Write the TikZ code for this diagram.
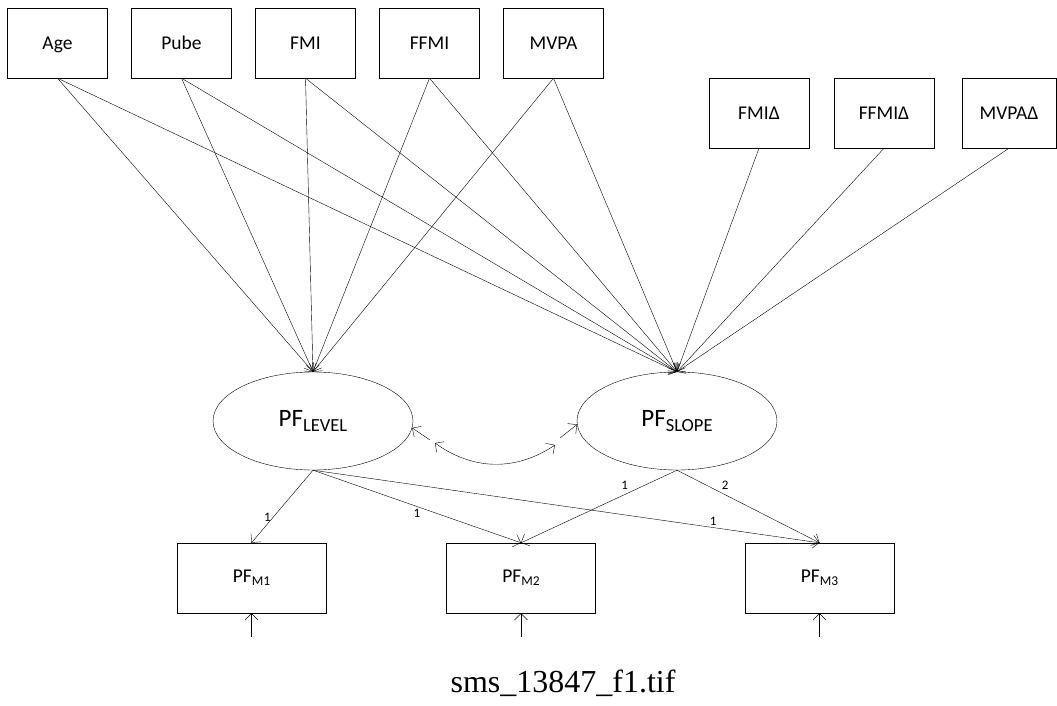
\documentclass[tikz,border=0pt]{standalone}
\usepackage{fontspec}
\setmainfont{Carlito}
\newfontfamily\tiffont{Liberation Serif}
\usetikzlibrary{positioning, arrows.meta, shapes.geometric}
\newcommand{\pfsub}[3]{PF\raisebox{-#3}{\fontsize{#1}{#1}\selectfont #2}}
\tikzset{
    ->, % Directed edges
    >={Straight Barb[length=6.5pt,width=13pt]}, % Open arrowheads
    x=1pt, y=-1pt, % Picture in pixel units
    line width=1.1pt,
    node distance=124pt, % Spacing of the predictor boxes
    var/.style={draw, minimum width=100pt, minimum height=70pt, text height=12.5pt, text depth=0pt, font=\fontsize{19.5}{22}\selectfont}, % Observed predictors
    ind/.style={draw, minimum width=149pt, minimum height=70pt, font=\fontsize{19.5}{22}\selectfont}, % Indicators
    lat/.style={draw, ellipse, minimum width=200pt, minimum height=98pt, inner sep=0pt, font=\fontsize{25}{28}\selectfont}, % Latent factors
    wt/.style={font=\fontsize{13}{14}\selectfont, inner sep=2pt}, % Loadings
}

\begin{document}
\begin{tikzpicture}
    \useasboundingbox (0,0) rectangle (1057,706);

    \node[var] (age) at (57.5,43) {Age};
    \node[var] (pube) [right of=age] {Pube};
    \node[var] (fmi) [right of=pube] {FMI};
    \node[var] (ffmi) [right of=fmi] {FFMI};
    \node[var] (mvpa) [right of=ffmi] {MVPA};

    \node[var] (fmid) at (759,113) {FMIΔ};
    \node[var] (ffmid) [right of=fmid, node distance=125pt] {FFMIΔ};
    \node[var, minimum width=94pt] (mvpad) [right of=ffmid, node distance=125pt] {MVPAΔ};

    \node[lat] (lvl) at (313,421) {\pfsub{18.5}{LEVEL}{5pt}};
    \node[lat] (slp) at (677,421) {\pfsub{18.5}{SLOPE}{5pt}};

    \node[ind] (m1) at (251.5,578) {\pfsub{13.5}{M1}{3pt}};
    \node[ind] (m2) at (521,578) {\pfsub{13.5}{M2}{3pt}};
    \node[ind] (m3) at (819.5,578) {\pfsub{13.5}{M3}{3pt}};

    \coordinate[below=24pt of m1] (e1);
    \coordinate[below=24pt of m2] (e2);
    \coordinate[below=24pt of m3] (e3);

    \path
        (age.south) edge (lvl.north)
                    edge (slp.north)
        (pube.south) edge (lvl.north)
                     edge (slp.north)
        (fmi.south) edge (lvl.north)
                    edge (slp.north)
        (ffmi.south) edge (lvl.north)
                     edge (slp.north)
        (mvpa.south) edge (lvl.north)
                     edge (slp.north)
        (fmid.south) edge (slp.north)
        (ffmid.south) edge (slp.north)
        (mvpad.south) edge (slp.north);

    \path
        (lvl.south) edge node[wt, left, pos=0.65] {1} (m1.north)
                    edge node[wt, below, pos=0.5] {1} (m2.north)
                    edge node[wt, above, pos=0.79] {1} (m3.north)
        (slp.south) edge node[wt, above left, pos=0.3] {1} (m2.north)
                    edge node[wt, above right, pos=0.3] {2} (m3.north)
        (e1) edge (m1.south)
        (e2) edge (m2.south)
        (e3) edge (m3.south);

    % covariance between the factors
    \coordinate (c1) at (430,440);
    \coordinate (c2) at (435,443);
    \coordinate (c3) at (555,445);
    \coordinate (c4) at (560,438);
    \draw (c1) -- (lvl.-4);
    \draw[<->] (c2) to[bend right=35] (c3);
    \draw (c4) -- (slp.182);

    \node[font=\tiffont\fontsize{32}{34}\selectfont] (tif) at (563,683) {sms\_13847\_f1.tif};
\end{tikzpicture}
\end{document}
